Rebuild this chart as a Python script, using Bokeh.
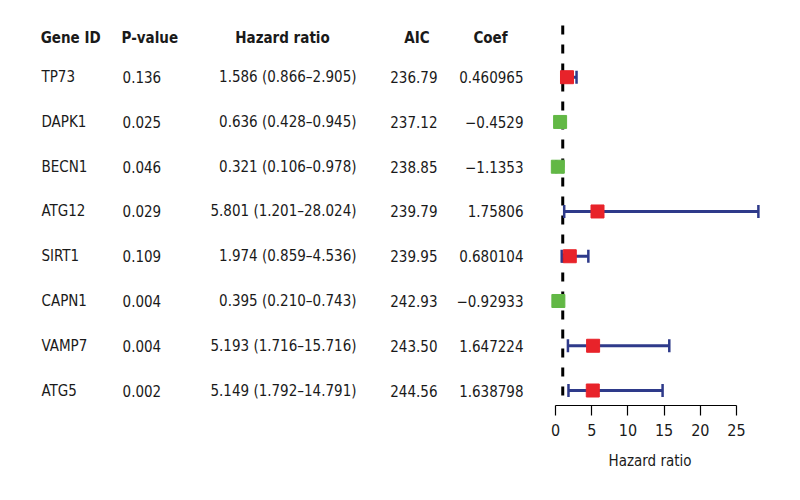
import math
from bokeh.plotting import figure
from bokeh.models import ColumnDataSource, Range1d, FixedTicker, Title
from bokeh.core.properties import value
from bokeh.embed import file_html
from bokeh.resources import INLINE

# ---- data ----
genes = ["TP73", "DAPK1", "BECN1", "ATG12", "SIRT1", "CAPN1", "VAMP7", "ATG5"]
pvalues = ["0.136", "0.025", "0.046", "0.029", "0.109", "0.004", "0.004", "0.002"]
hr = [1.586, 0.636, 0.321, 5.801, 1.974, 0.395, 5.193, 5.149]
hr_low = [0.866, 0.428, 0.106, 1.201, 0.859, 0.210, 1.716, 1.792]
hr_high = [2.905, 0.945, 0.978, 28.024, 4.536, 0.743, 15.716, 14.791]
aic = ["236.79", "237.12", "238.85", "239.79", "239.95", "242.93", "243.50", "244.56"]
coef = ["0.460965", "\u22120.4529", "\u22121.1353", "1.75806", "0.680104", "\u22120.92933", "1.647224", "1.638798"]
headers = ["Gene ID", "P-value", "Hazard ratio", "AIC", "Coef"]
x_ticks = [0, 5, 10, 15, 20, 25]
ref_line = 1
axis_title = "Hazard ratio"

FONT = "DejaVu Sans Condensed"
FS = "15px"
RED = "#E8232A"
GREEN = "#62B845"
NAVY = "#2E3A8A"
TXT = "#1a1a1a"

rows = list(range(1, len(genes) + 1))
hr_text = [f"{h:.3f} ({l:.3f}\u2013{u:.3f})" for h, l, u in zip(hr, hr_low, hr_high)]
colors = [RED if h > 1 else GREEN for h in hr]

src = ColumnDataSource(dict(y=rows, gene=genes, p=pvalues, hrt=hr_text, aic=aic, coef=coef,
                            hr=hr, lo=hr_low, hi=hr_high, color=colors))

p = figure(width=784, height=490, output_backend="svg", toolbar_location=None,
           x_range=Range1d(-76.66, 31.63), y_range=Range1d(8.335, -0.714),
           y_axis_location=None, min_border_left=0, min_border_right=0,
           min_border_top=0, min_border_bottom=85)
p.xgrid.visible = False
p.ygrid.visible = False
p.outline_line_color = None

# reference dashed line
p.segment(x0=[ref_line], y0=[-0.155], x1=[ref_line], y1=[8.335], line_color="black",
          line_width=3, line_dash="9 10")

# CI bars
p.segment(x0="lo", y0="y", x1="hi", y1="y", source=src, line_color=NAVY, line_width=3)
p.scatter(x="lo", y="y", source=src, marker="dash", angle=math.pi / 2, size=13,
          line_color=NAVY, line_width=2.5)
p.scatter(x="hi", y="y", source=src, marker="dash", angle=math.pi / 2, size=13,
          line_color=NAVY, line_width=2.5)
p.scatter(x="hr", y="y", source=src, marker="square", size=13, fill_color="color",
          line_color="color")

# table text
common = dict(text_font=value(FONT), text_font_size=FS, text_color=TXT,
              text_baseline="middle", source=src)
p.text(x=-71.0, y="y", text="gene", text_align="left", **common)
p.text(x=-59.8, y="y", text="p", text_align="left", **common)
p.text(x=-27.49, y="y", text="hrt", text_align="right", **common)
p.text(x=-16.30, y="y", text="aic", text_align="right", **common)
p.text(x=-4.42, y="y", text="coef", text_align="right", **common)

hsrc = ColumnDataSource(dict(x=[-71.1, -59.94, -37.71, -19.13, -8.98], y=[0.135] * 5,
                             t=headers, a=["left", "left", "center", "center", "center"]))
p.text(x="x", y="y", text="t", text_align="a", source=hsrc, text_font=value(FONT),
       text_font_size=FS, text_font_style="bold", text_color=TXT,
       text_baseline="middle")

ax = p.xaxis[0]
ax.bounds = (0, 25)
ax.ticker = FixedTicker(ticks=x_ticks)
ax.minor_tick_line_color = None
ax.major_tick_out = 10
ax.major_tick_in = 0
ax.major_tick_line_width = 1.2
ax.axis_line_width = 1.2
ax.major_label_standoff = 8
ax.major_label_text_font = FONT
ax.major_label_text_font_size = "16px"
ax.major_label_text_color = TXT

p.add_layout(Title(text=axis_title, align="left", offset=608, text_font=FONT,
                   text_font_size=FS, text_font_style="normal", text_color=TXT,
                   standoff=22), "below")

open("out.html", "w").write(file_html(p, INLINE))
